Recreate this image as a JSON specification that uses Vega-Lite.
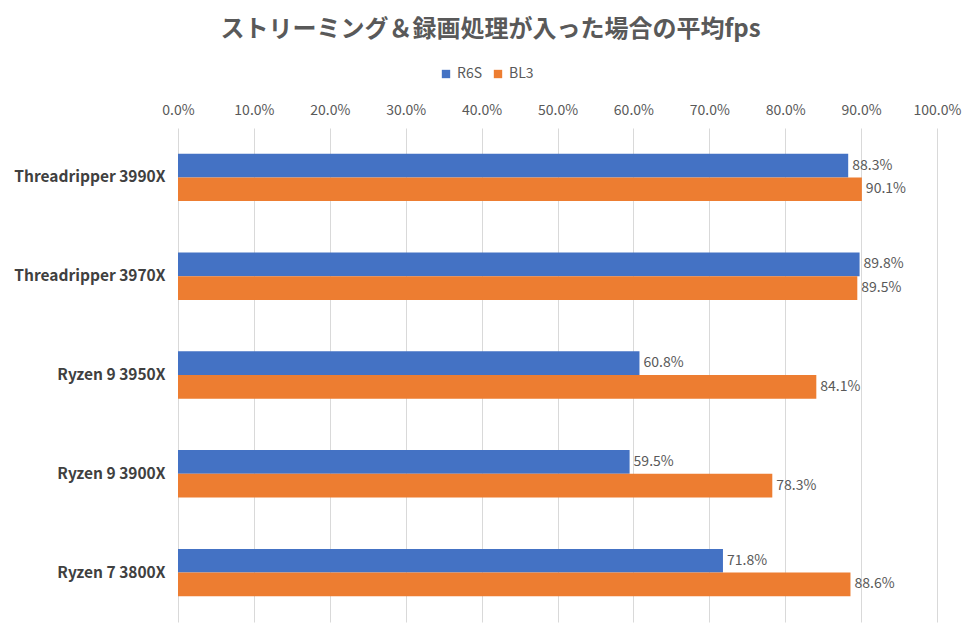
{
  "$schema": "https://vega.github.io/schema/vega-lite/v6.json",
  "autosize": {"type": "none"},
  "width": 759,
  "height": 494,
  "padding": {"left": 178, "top": 128, "right": 40, "bottom": 16},
  "background": "white",
  "title": {
    "text": "ストリーミング＆録画処理が入った場合の平均fps",
    "font": "Noto Sans CJK JP",
    "fontSize": 24,
    "fontWeight": "bold",
    "color": "#595959",
    "anchor": "middle",
    "frame": "group",
    "dx": -67,
    "offset": 25
  },
  "data": {
    "values": [
      {"cpu": "Threadripper 3990X", "series": "R6S", "value": 0.883},
      {"cpu": "Threadripper 3990X", "series": "BL3", "value": 0.901},
      {"cpu": "Threadripper 3970X", "series": "R6S", "value": 0.898},
      {"cpu": "Threadripper 3970X", "series": "BL3", "value": 0.895},
      {"cpu": "Ryzen 9 3950X", "series": "R6S", "value": 0.608},
      {"cpu": "Ryzen 9 3950X", "series": "BL3", "value": 0.841},
      {"cpu": "Ryzen 9 3900X", "series": "R6S", "value": 0.595},
      {"cpu": "Ryzen 9 3900X", "series": "BL3", "value": 0.783},
      {"cpu": "Ryzen 7 3800X", "series": "R6S", "value": 0.718},
      {"cpu": "Ryzen 7 3800X", "series": "BL3", "value": 0.886}
    ]
  },
  "encoding": {
    "y": {
      "field": "cpu",
      "type": "nominal",
      "sort": null,
      "title": null,
      "scale": {"paddingInner": 0.52, "paddingOuter": 0.26},
      "axis": {
        "ticks": false,
        "domain": false,
        "labelPadding": 13,
        "labelFont": "Noto Sans CJK JP",
        "labelFontSize": 15.5,
        "labelFontWeight": "bold",
        "labelColor": "#404040",
        "labelLimit": 200
      }
    },
    "yOffset": {
      "field": "series",
      "type": "nominal",
      "sort": ["R6S", "BL3"],
      "scale": {"paddingInner": 0, "paddingOuter": 0}
    },
    "x": {
      "field": "value",
      "type": "quantitative",
      "title": null,
      "scale": {"domain": [0, 1], "nice": false},
      "axis": {
        "orient": "top",
        "format": ".1%",
        "values": [0, 0.1, 0.2, 0.3, 0.4, 0.5, 0.6, 0.7, 0.8, 0.9, 1],
        "labelFlush": false,
        "domain": false,
        "ticks": false,
        "labelPadding": 11,
        "labelFont": "Noto Sans CJK JP",
        "labelFontSize": 14,
        "labelColor": "#595959",
        "gridColor": "#d9d9d9",
        "gridWidth": 1
      }
    }
  },
  "layer": [
    {
      "mark": {"type": "bar"},
      "encoding": {
        "color": {
          "field": "series",
          "type": "nominal",
          "scale": {"domain": ["R6S", "BL3"], "range": ["#4472C4", "#ED7D31"]},
          "legend": {
            "title": null,
            "orient": "none",
            "direction": "horizontal",
            "legendX": 261,
            "legendY": -61,
            "symbolType": "square",
            "symbolSize": 70,
            "symbolStrokeWidth": 0,
            "labelFont": "Noto Sans CJK JP",
            "labelFontSize": 14,
            "labelColor": "#595959",
            "columnPadding": 8,
            "labelOffset": 4
          }
        }
      }
    },
    {
      "mark": {
        "type": "text",
        "align": "left",
        "baseline": "middle",
        "dx": 4,
        "font": "Noto Sans CJK JP",
        "fontSize": 14,
        "color": "#595959"
      },
      "encoding": {
        "text": {"field": "value", "type": "quantitative", "format": ".1%"}
      }
    }
  ],
  "config": {
    "view": {"stroke": null}
  }
}
